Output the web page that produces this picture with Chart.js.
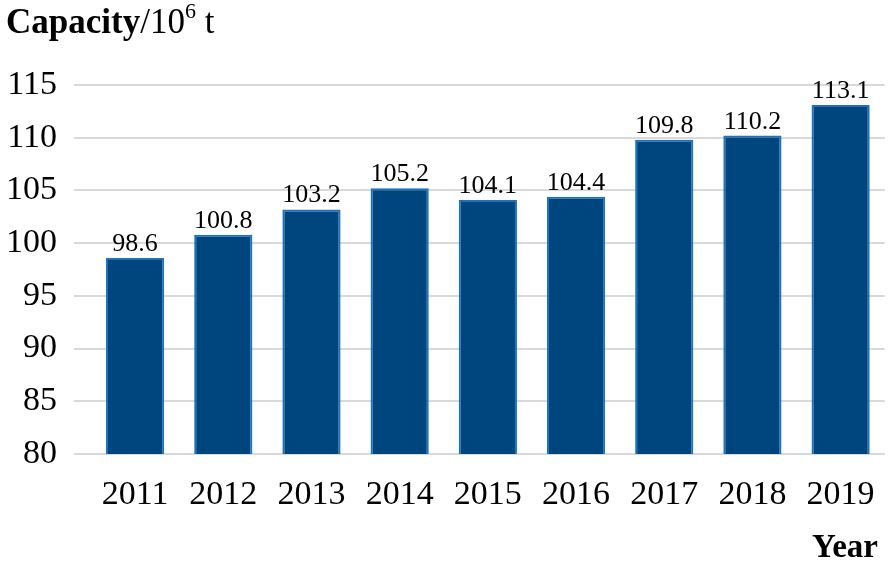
<!DOCTYPE html>
<html>
<head>
<meta charset="utf-8">
<script src="https://cdn.jsdelivr.net/npm/chart.js@4.4.0/dist/chart.umd.min.js"></script>
<style>
  html, body { margin: 0; padding: 0; background: #fff; }
  #wrap { position: relative; width: 896px; height: 566px; }
  #yTitle { position: absolute; left: 6px; top: 4px; font-family: "Liberation Serif", "Times New Roman", serif; font-size: 35px; color: #000; white-space: nowrap; line-height: 1; }
  #yTitle b { font-weight: bold; }
  #yTitle sup { font-size: 22px; position: relative; top: -4px; vertical-align: top; }
  #xTitle { position: absolute; right: 18px; top: 530px; font-family: "Liberation Serif", "Times New Roman", serif; font-size: 33px; font-weight: bold; color: #000; line-height: 1; }
</style>
</head>
<body>
<div id="wrap">
  <canvas id="c" width="896" height="566"></canvas>
  <div id="yTitle"><b>Capacity</b>/10<sup>6</sup> t</div>
  <div id="xTitle">Year</div>
</div>
<script>
const years = ["2011","2012","2013","2014","2015","2016","2017","2018","2019"];
const capacity = [98.6, 100.8, 103.2, 105.2, 104.1, 104.4, 109.8, 110.2, 113.1];
const yTicks = [80, 85, 90, 95, 100, 105, 110, 115];

const valueLabels = {
  id: 'valueLabels',
  afterDatasetsDraw(chart) {
    const ctx = chart.ctx;
    const meta = chart.getDatasetMeta(0);
    ctx.save();
    ctx.font = '26px "Liberation Serif", "Times New Roman", serif';
    ctx.fillStyle = '#000';
    ctx.textAlign = 'center';
    ctx.textBaseline = 'alphabetic';
    meta.data.forEach((bar, i) => {
      ctx.fillText(capacity[i].toFixed(1), bar.x, bar.y - 7);
    });
    ctx.restore();
  }
};

new Chart(document.getElementById('c'), {
  type: 'bar',
  data: {
    labels: years,
    datasets: [{
      data: capacity,
      backgroundColor: '#00467e',
      borderColor: '#1a72c0',
      borderWidth: 2,
      barPercentage: 0.66,
      categoryPercentage: 1.0
    }]
  },
  options: {
    responsive: false,
    animation: false,
    layout: { padding: { left: 0, right: 7, top: 85, bottom: 0 } },
    plugins: { legend: { display: false }, tooltip: { enabled: false } },
    scales: {
      x: {
        grid: { display: false, drawTicks: false },
        border: { display: false },
        ticks: {
          color: '#000',
          padding: 21,
          font: { family: '"Liberation Serif", "Times New Roman", serif', size: 34 }
        },
        afterFit(scale) { scale.height = 112; }
      },
      y: {
        min: 80,
        max: 115,
        afterBuildTicks(scale) { scale.ticks = yTicks.map(v => ({ value: v })); },
        grid: { color: '#d9d9d9', lineWidth: 2, drawTicks: true, tickLength: 17 },
        border: { display: false },
        ticks: {
          color: '#000',
          padding: 17,
          font: { family: '"Liberation Serif", "Times New Roman", serif', size: 34 }
        },
        afterFit(scale) { scale.width = 91; }
      }
    }
  },
  plugins: [valueLabels]
});
</script>
</body>
</html>
